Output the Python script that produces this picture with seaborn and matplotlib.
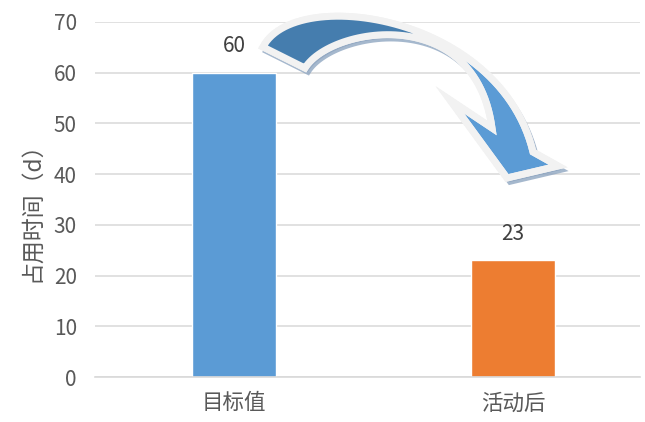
import numpy as np
import pandas as pd
import seaborn as sns
import matplotlib
matplotlib.use("Agg")
import matplotlib.pyplot as plt
from matplotlib.patches import Polygon

categories = ["目标值", "活动后"]
values = [60, 23]
bar_colors = ["#5B9BD5", "#ED7D31"]
y_ticks = [0, 10, 20, 30, 40, 50, 60, 70]
y_label = "占用时间（d）"

sns.set_style("white")
plt.rcParams['font.family'] = ['Noto Sans CJK SC', 'DejaVu Sans']
plt.rcParams['font.weight'] = 'light'

W, H = 645, 422
fig = plt.figure(figsize=(W / 100, H / 100), dpi=100)
ax = fig.add_axes([95 / W, 1 - 377 / H, 545 / W, 355 / H])

df = pd.DataFrame({"cat": categories, "val": values})
sns.barplot(data=df, x="cat", y="val", hue="cat", palette=bar_colors,
            width=0.30, legend=False, ax=ax, saturation=1)

ax.set_xlim(-0.498, 1.455)
ax.set_ylim(0, 70)
ax.set_yticks(y_ticks)
ax.yaxis.grid(True, color="#D9D9D9", linewidth=1.1)
ax.set_axisbelow(True)
for s in ["top", "right", "left"]:
    ax.spines[s].set_visible(False)
ax.spines["bottom"].set_color("#D9D9D9")
ax.spines["bottom"].set_linewidth(1.2)
ax.tick_params(axis="y", length=0, pad=13, labelsize=15, labelcolor="#595959")
ax.tick_params(axis="x", length=0, pad=11, labelsize=15.5, labelcolor="#595959")
ax.set_xlabel("")
ax.set_ylabel(y_label, fontsize=16.5, color="#595959")
ax.yaxis.set_label_coords(-0.095, 0.48)

for i, v in enumerate(values):
    ax.annotate(f"{v}", (i, v), xytext=(0, 11), textcoords="offset points",
                ha="center", va="bottom", fontsize=15, color="#404040")

# decorative curved arrow (figure pixel coordinates, y from top)
def bez(p0, c1, c2, p3, n=60, t0=0.0, t1=1.0):
    t = np.linspace(t0, t1, n)[:, None]
    p0, c1, c2, p3 = map(np.array, (p0, c1, c2, p3))
    return ((1 - t) ** 3) * p0 + 3 * ((1 - t) ** 2) * t * c1 + 3 * (1 - t) * t ** 2 * c2 + t ** 3 * p3

outer = ((263, 47), (295, -15), (500, 15), (533, 152))
inner = ((305, 68), (330, 27), (475, 2), (492, 128))
head = np.array([(558, 166), (507, 178), (450, 100)])

full = np.vstack([bez(*outer), head, bez(*inner)[::-1]])
dark = np.vstack([bez(*outer, t1=0.52), bez(*inner, t1=0.58)[::-1]])

def to_fig(pts, dx=0, dy=0):
    pts = np.asarray(pts, dtype=float)
    return np.column_stack([(pts[:, 0] + dx) / W, 1 - (pts[:, 1] + dy) / H])

fig.patches.append(Polygon(to_fig(full, 3, 4), closed=True, transform=fig.transFigure,
                           facecolor="#8FA6C1", edgecolor="#8FA6C1", linewidth=4, alpha=0.8))
fig.patches.append(Polygon(to_fig(full), closed=True, transform=fig.transFigure,
                           facecolor="#5B9BD5", edgecolor="#F2F2F2", linewidth=5, joinstyle="miter"))
fig.patches.append(Polygon(to_fig(dark), closed=True, transform=fig.transFigure,
                           facecolor="#457DAE", edgecolor="none"))
fig.patches.append(Polygon(to_fig(full), closed=True, transform=fig.transFigure,
                           facecolor="none", edgecolor="#F2F2F2", linewidth=5, joinstyle="miter"))

fig.savefig("out.png", dpi=100)
